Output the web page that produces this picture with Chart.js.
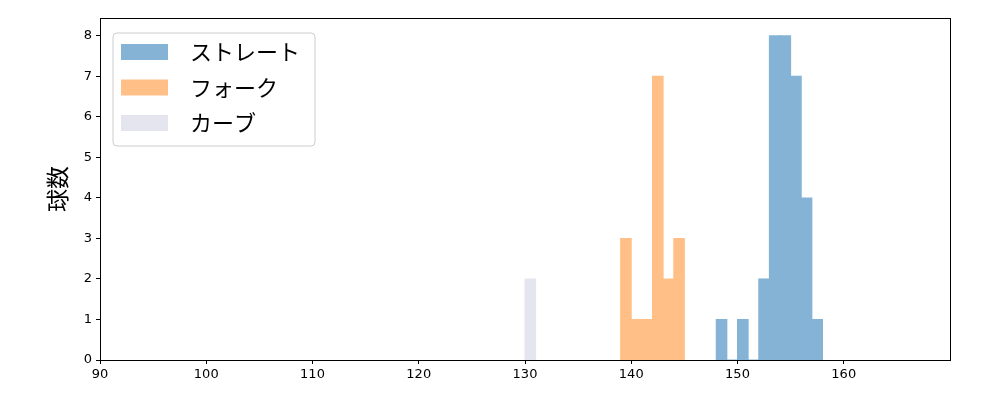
<!DOCTYPE html>
<html>
<head>
<meta charset="utf-8">
<script src="https://cdn.jsdelivr.net/npm/chart.js@4.4.0/dist/chart.umd.min.js"></script>
<style>
  html, body { margin: 0; padding: 0; background: #fff; }
  #wrap { width: 1000px; height: 400px; }
</style>
</head>
<body>
<div id="wrap"><canvas id="pitchChart" width="1000" height="400"></canvas></div>
<script>
// histogram bins are 1 km/h wide; each list starts at its first bin edge
const seriesNames = ['ストレート', 'フォーク', 'カーブ'];
const straightStart = 148;
const straightCounts = [1, 0, 1, 0, 2, 8, 8, 7, 4, 1];
const forkStart = 139;
const forkCounts = [3, 1, 1, 7, 2, 3];
const curveStart = 130;
const curveCounts = [2];
// semi-transparent matplotlib colours already blended onto white
const seriesColors = ['rgb(132, 179, 214)', 'rgb(255, 191, 135)', 'rgb(229, 229, 240)'];
const xTicks = [90, 100, 110, 120, 130, 140, 150, 160];
const yTicks = [0, 1, 2, 3, 4, 5, 6, 7, 8];

function toBins(start, counts) {
    return counts.map((c, i) => ({ x: start + i + 0.5, y: c }));
}

const frameAndLegend = {
    id: 'frameAndLegend',
    afterDraw(chart) {
        const ctx = chart.ctx;
        const a = chart.chartArea;
        ctx.save();
        ctx.strokeStyle = '#000';
        ctx.lineWidth = 1;
        ctx.strokeRect(a.left + 0.5, a.top + 0.5, a.right - a.left, a.bottom - a.top);

        // legend box in the upper left corner
        const bx = 113, by = 33, bw = 202, bh = 113, r = 4;
        ctx.beginPath();
        ctx.moveTo(bx + r, by);
        ctx.arcTo(bx + bw, by, bx + bw, by + bh, r);
        ctx.arcTo(bx + bw, by + bh, bx, by + bh, r);
        ctx.arcTo(bx, by + bh, bx, by, r);
        ctx.arcTo(bx, by, bx + bw, by, r);
        ctx.closePath();
        ctx.fillStyle = 'rgba(255,255,255,0.8)';
        ctx.fill();
        ctx.strokeStyle = '#cccccc';
        ctx.stroke();

        ctx.font = "22px 'Noto Sans CJK JP', sans-serif";
        ctx.textBaseline = 'middle';
        chart.data.datasets.forEach((ds, i) => {
            const y = 52 + i * 35.5;
            ctx.fillStyle = ds.backgroundColor;
            ctx.fillRect(121, y - 8, 47, 16);
            ctx.fillStyle = '#000';
            ctx.fillText(ds.label, 190, y);
        });
        ctx.restore();
    }
};

const ctx = document.getElementById('pitchChart').getContext('2d');

new Chart(ctx, {
    type: 'bar',
    data: {
        datasets: [
            { label: seriesNames[0], data: toBins(straightStart, straightCounts), backgroundColor: seriesColors[0] },
            { label: seriesNames[1], data: toBins(forkStart, forkCounts), backgroundColor: seriesColors[1] },
            { label: seriesNames[2], data: toBins(curveStart, curveCounts), backgroundColor: seriesColors[2] }
        ]
    },
    options: {
        responsive: false,
        animation: false,
        layout: { padding: { top: 18, right: 50, left: 0, bottom: 0 } },
        datasets: {
            bar: { grouped: false, barPercentage: 1, categoryPercentage: 1, borderWidth: 0, inflateAmount: 0.5 }
        },
        plugins: {
            legend: { display: false },
            tooltip: { enabled: false }
        },
        scales: {
            x: {
                type: 'linear',
                offset: false,
                min: 90,
                max: 170,
                afterBuildTicks: s => { s.ticks = xTicks.map(v => ({ value: v })); },
                afterFit: s => { s.height = 40; },
                grid: { offset: false, drawOnChartArea: false, drawTicks: true, tickLength: 4, color: '#000' },
                border: { color: '#000' },
                ticks: {
                    color: '#000',
                    padding: 3,
                    maxRotation: 0,
                    font: { family: "'DejaVu Sans', sans-serif", size: 13 }
                }
            },
            y: {
                min: 0,
                max: 8.44,
                afterBuildTicks: s => { s.ticks = yTicks.map(v => ({ value: v })); },
                afterFit: s => { s.width = 100; },
                grid: { drawOnChartArea: false, drawTicks: true, tickLength: 4, color: '#000' },
                border: { color: '#000' },
                title: {
                    display: true,
                    text: '球数',
                    color: '#000',
                    padding: { top: 43, bottom: 0 },
                    font: { family: "'Noto Sans CJK JP', sans-serif", size: 23 }
                },
                ticks: {
                    color: '#000',
                    padding: 4,
                    font: { family: "'DejaVu Sans', sans-serif", size: 13 }
                }
            }
        }
    },
    plugins: [frameAndLegend]
});
</script>
</body>
</html>
